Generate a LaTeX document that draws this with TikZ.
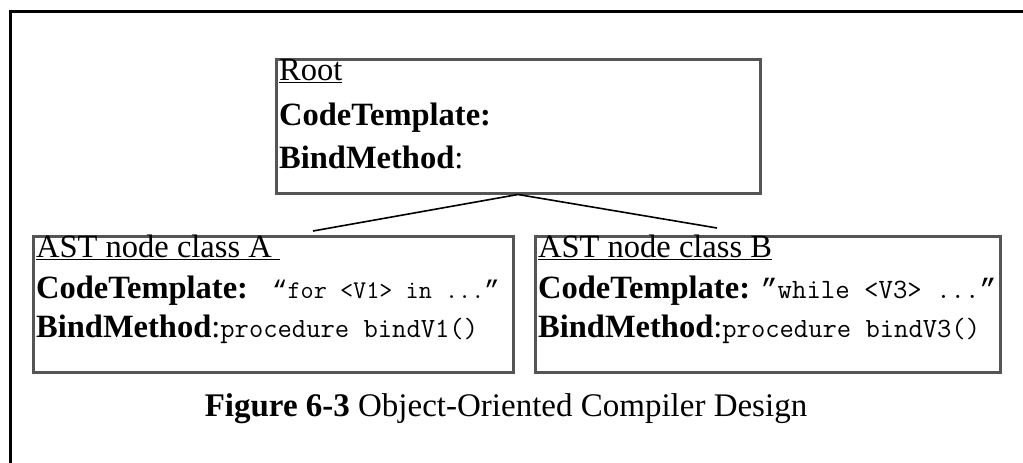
\documentclass[tikz,border=0pt]{standalone}
\usepackage{fontspec}
\setmainfont{Liberation Serif}
\newfontfamily\quotemono{Liberation Mono}
\definecolor{boxgray}{HTML}{555555}
% typewriter text in a given size
\newcommand{\codetxt}[2]{{\fontsize{#1}{#1}\selectfont\ttfamily #2}}
% curly typewriter quotes
\newcommand{\oq}{{\quotemono “}}
\newcommand{\cq}{{\quotemono ”}}
\begin{document}
\begin{tikzpicture}[x=1pt,y=-1pt,
  classbox/.style={draw=boxgray, line width=3pt, inner sep=0pt},
  entry/.style={anchor=base west, inner sep=0pt, font=\fontsize{32.5}{36}\selectfont},
  link/.style={line width=1.6pt, black},
  ]
\useasboundingbox (0,0) rectangle (1023,463);
% page frame, open to the right and below
\draw[line width=3pt] (10,470) -- (10,11) -- (1030,11);

% class boxes
\node[classbox, minimum width=484pt, minimum height=134pt] (root) at (518,126) {};
\node[classbox, minimum width=480pt, minimum height=136pt] (clsA) at (273,304) {};
\node[classbox, minimum width=465pt, minimum height=136pt] (clsB) at (767.5,304) {};

% root contents
\node[entry] (rootname) at (279,80) {\underline{Root}};
\node[entry] (rootct) at (279,125) {\textbf{CodeTemplate:}};
\node[entry] (rootbm) at (279,168) {\textbf{BindMethod}:};

% class A contents
\node[entry] (aname) at (36,257) {\underline{AST node class A\hspace{0.25em}}};
\node[entry] (act) at (36,298) {\textbf{CodeTemplate:}};
\node[entry] (actcode) at (272,298) {\codetxt{25.5}{\oq for <V1> in ...\cq}};
\node[entry] (abm) at (36,337) {\textbf{BindMethod}:\codetxt{27.8}{procedure bindV1()}};

% class B contents
\node[entry] (bname) at (538,257) {\underline{AST node class B}};
\node[entry] (bct) at (538,298) {\textbf{CodeTemplate:} \codetxt{28}{\cq while <V3> ...\cq}};
\node[entry] (bbm) at (538,337) {\textbf{BindMethod}:\codetxt{27.8}{procedure bindV3()}};

% inheritance links
\coordinate (endA) at (313,231);
\coordinate (endB) at (717,228);
\draw[link] (root.south) -- (endA);
\draw[link] (root.south) -- (endB);

% caption
\node[anchor=base, inner sep=0pt, font=\fontsize{33}{38}\selectfont] (caption) at (506,416)
  {\textbf{Figure 6-3} Object-Oriented Compiler Design};
\end{tikzpicture}
\end{document}
